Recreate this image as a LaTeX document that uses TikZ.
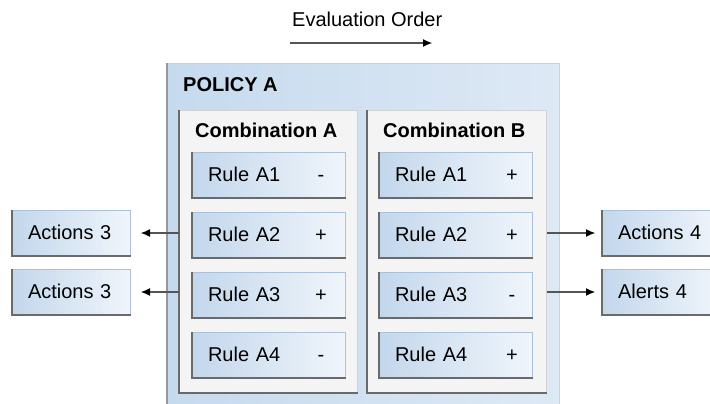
\documentclass[tikz,border=0pt]{standalone}
\usepackage{fontspec}
\setmainfont{Liberation Sans}
\usetikzlibrary{arrows.meta,positioning}
\definecolor{polL}{HTML}{C6DAEE}
\definecolor{polR}{HTML}{DDE9F5}
\definecolor{polEdge}{HTML}{C2D3E6}
\definecolor{ruleL}{HTML}{C3D7EC}
\definecolor{ruleR}{HTML}{F0F5FB}
\definecolor{ruleEdge}{HTML}{A9C1DB}
\definecolor{combFill}{HTML}{F4F4F4}
\definecolor{combEdge}{HTML}{D2D2D2}
\definecolor{darkEdge}{HTML}{6A6A6A}
\definecolor{arrowGray}{HTML}{555555}
\tikzset{
  txt/.style={font=\fontsize{20}{24}\selectfont, inner sep=0pt},
  bold/.style={txt, font=\fontsize{20}{24}\selectfont\bfseries},
  policybox/.style={anchor=north west, inner sep=0pt, left color=polL, right color=polR, draw=polEdge, line width=1pt},
  combbox/.style={anchor=north west, inner sep=0pt, fill=combFill, draw=combEdge, line width=1pt},
  rulebox/.style={anchor=north west, minimum width=153pt, minimum height=45pt,
    left color=ruleL, right color=ruleR, draw=ruleEdge, line width=1pt,
    font=\fontsize{20}{24}\selectfont, text width=122pt, align=left,
    inner xsep=15.5pt, inner ysep=0pt, text height=13.5pt, text depth=0pt},
  signtext/.style={font=\fontsize{20}{24}\selectfont, inner sep=0pt, text height=13.5pt, text depth=0pt},
  darkedge/.style={draw=darkEdge, line width=1.3pt},
  flow/.style={draw=arrowGray, line width=1.1pt, -{Latex[length=9pt,width=8pt,black]}},
}
\begin{document}
\begin{tikzpicture}[x=1pt,y=-1pt]
\useasboundingbox (0,0) rectangle (710,404);
\clip (0,0) rectangle (710,404);

% evaluation order
\node[txt, anchor=base west] (eo) at (292,27) {Evaluation Order};
\coordinate (eoA) at (290,43);
\coordinate (eoB) at (432,43);
\draw[flow] (eoA) -- (eoB);

% policy
\node[policybox, minimum width=392pt, minimum height=360pt] (pol) at (167,63) {};
\draw[draw=darkEdge!70, line width=1.2pt] (pol.north west) -- (pol.south west);
\node[bold, anchor=base west] (polT) at ([xshift=16pt,yshift=-29pt]pol.north west) {POLICY A};

% combinations
\node[combbox, minimum width=178pt, minimum height=282pt] (cA) at (179,110) {};
\node[combbox, minimum width=179pt, minimum height=282pt] (cB) at (367,110) {};
\foreach \n in {cA,cB}
  \draw[darkedge] (\n.north west) -- (\n.south west) -- (\n.south east);
\node[bold, anchor=base west] (cAT) at ([xshift=16pt,yshift=-27pt]cA.north west) {Combination A};
\node[bold, anchor=base west] (cBT) at ([xshift=16pt,yshift=-27pt]cB.north west) {Combination B};

% rules
\foreach \i/\sa/\sb in {1/-/+,2/+/+,3/+/-,4/-/+}{
  \node[rulebox] (rA\i) at (192,{92+60*\i}) {Rule A\i};
  \node[rulebox] (rB\i) at (379,{92+60*\i}) {Rule A\i};
  \draw[darkedge] (rA\i.north west) -- (rA\i.south west) -- (rA\i.south east);
  \draw[darkedge] (rB\i.north west) -- (rB\i.south west) -- (rB\i.south east);
  \node[signtext] (sA\i) at ([xshift=129pt]rA\i.west) {\sa};
  \node[signtext] (sB\i) at ([xshift=133pt]rB\i.west) {\sb};
}

% action boxes
\node[rulebox, minimum width=118pt, text width=87pt] (act3a) at (12,210) {Actions 3};
\node[rulebox, minimum width=118pt, text width=87pt] (act3b) at (12,269) {Actions 3};
\node[rulebox, minimum width=118pt, text width=87pt] (act4) at (602,210) {Actions 4};
\node[rulebox, minimum width=118pt, text width=87pt] (alr4) at (602,269) {Alerts 4};
\foreach \n in {act3a,act3b,act4,alr4}
  \draw[darkedge] (\n.north west) -- (\n.south west) -- (\n.south east);

% connectors
\draw[flow, shorten >=10pt] (act3a.east -| cA.west) -- (act3a.east);
\draw[flow, shorten >=10pt] (act3b.east -| cA.west) -- (act3b.east);
\draw[flow, shorten >=7pt] (act4.west -| cB.east) -- (act4.west);
\draw[flow, shorten >=7pt] (alr4.west -| cB.east) -- (alr4.west);
\end{tikzpicture}
\end{document}
